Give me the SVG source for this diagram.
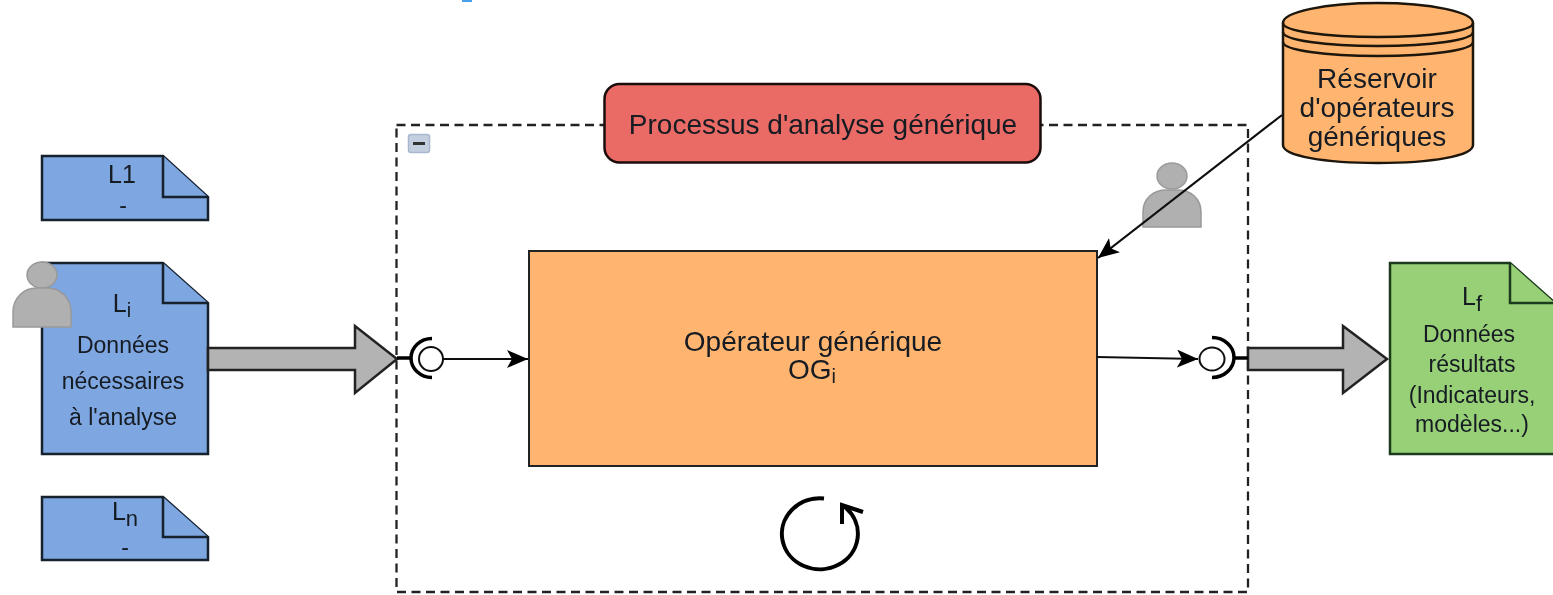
<svg xmlns="http://www.w3.org/2000/svg" width="1553" height="595" viewBox="0 0 1553 595">
<style>
text{font-family:"Liberation Sans",Arial,sans-serif;fill:#141a22;text-anchor:middle}
.doc{fill:#7ea6e0;stroke:#14202e;stroke-width:2.5;stroke-linejoin:miter}
.res{fill:#97d077;stroke:#1c3a1c;stroke-width:2.5}
.fat{fill:#b3b3b3;stroke:#222;stroke-width:2.5;stroke-linejoin:miter}
.person{fill:#b0b0b0;stroke:#999;stroke-width:1.5}
.t23{font-size:23px}
.t24{font-size:25px}
.t28{font-size:28px}
.line{fill:none;stroke:#111;stroke-width:2.2}
.sock{fill:none;stroke:#000;stroke-width:3.5}
.ball{fill:#fff;stroke:#111;stroke-width:2}
</style>
<defs>
<marker id="ah" markerUnits="userSpaceOnUse" markerWidth="24" markerHeight="20" refX="21" refY="9" orient="auto"><path d="M0 0L21 9L0 18L5 9Z" fill="#000"/></marker>
<filter id="soft" x="0" y="0" width="100%" height="100%"><feGaussianBlur stdDeviation="0.55"/></filter>
</defs>
<g filter="url(#soft)">
<rect x="0" y="0" width="1553" height="595" fill="#fff"/>
<rect x="462" y="0" width="10" height="2" fill="#4a9fe8"/>
<g id="process-frame">
<rect x="396.5" y="125" width="851.5" height="467" fill="none" stroke="#222" stroke-width="2.300" stroke-dasharray="9 5.5"/>
<rect x="408.500" y="134.500" width="21" height="18" rx="2.500" fill="#c3cfdf" stroke="#a8b8cd" stroke-width="1.500"/>
<rect x="413" y="142" width="12" height="3" fill="#333"/>
</g>
<g id="title"><rect x="604.500" y="84" width="436" height="78.500" rx="15" fill="#ea6b66" stroke="#1a0a0a" stroke-width="2.500"/><text x="823" y="134" class="t28">Processus d'analyse générique</text></g>
<g id="operator"><rect x="529" y="251" width="568" height="215" fill="#ffb570" stroke="#222" stroke-width="2"/><text x="813" y="351" class="t28">Opérateur générique</text><text x="812" y="379" class="t28">OG<tspan font-size="20" dy="4">i</tspan></text></g>
<g id="reservoir">
<path d="M1283 23V145C1283 156 1325 163 1378 163S1473 156 1473 145V23C1473 12 1431 3 1378 3S1283 12 1283 23Z" fill="#ffb570" stroke="#1c1408" stroke-width="2.500"/>
<path d="M1283 23C1283 31 1325 37 1378 37S1473 31 1473 23M1283 32C1283 40 1325 46 1378 46S1473 40 1473 32M1283 42C1283 50 1325 56 1378 56S1473 50 1473 42" fill="none" stroke="#1c1408" stroke-width="2.500"/>
<text x="1377" y="88" class="t28">Réservoir</text><text x="1377" y="117" class="t28">d'opérateurs</text><text x="1377" y="146" class="t28">génériques</text>
</g>
<g id="doc-l1"><path class="doc" d="M42 156H163L208 197V220H42Z"/><path class="doc" d="M163 156V197H208" fill="none"/><text x="122" y="183" class="t24">L1</text><text x="123" y="213" class="t23">-</text></g>
<g id="doc-li"><path class="doc" d="M42 263H163L208 303V454H42Z"/><path class="doc" d="M163 263V303H208"/><text x="122" y="312" class="t24">L<tspan font-size="20" dy="5">i</tspan></text><text x="123" y="353" class="t23">Données</text><text x="123" y="389" class="t23">nécessaires</text><text x="123" y="425" class="t23">à l'analyse</text></g>
<g id="doc-ln"><path class="doc" d="M42 497H163L208 537V560H42Z"/><path class="doc" d="M163 497V537H208"/><text x="125" y="520" class="t24">L<tspan font-size="22" dy="6">n</tspan></text><text x="125" y="555" class="t23">-</text></g>
<g id="doc-lf"><path class="res" d="M1390 263H1510L1555 303V454H1390Z"/><path class="res" d="M1510 263V303H1555"/><text x="1472" y="305" class="t24">L<tspan font-size="22" dy="6">f</tspan></text><text x="1469" y="342" class="t23">Données</text><text x="1472" y="372" class="t23">résultats</text><text x="1472" y="403" class="t23">(Indicateurs,</text><text x="1472" y="432" class="t23">modèles...)</text></g>
<g id="user-left"><ellipse cx="42" cy="275" rx="15" ry="13" class="person"/><path class="person" d="M13 327V312C13 298 24 288 36 288H48C60 288 71 298 71 312V327Z"/></g>
<g id="user-right"><ellipse cx="1172" cy="176" rx="15" ry="13" class="person"/><path class="person" d="M1143 227V212C1143 198 1154 190 1166 190H1178C1190 190 1201 198 1201 212V227Z"/></g>
<g id="connectors">
<path class="fat" d="M208 348H355V326L397 359L355 393V370H208Z"/>
<path class="fat" d="M1248 348H1343V326L1387 359L1343 393V370H1248Z"/>
<path class="line" d="M1282 115L1098 258" marker-end="url(#ah)"/>
<path class="line" d="M443 359H528" marker-end="url(#ah)"/>
<path class="line" d="M1097 357L1198 359" marker-end="url(#ah)"/>
<path class="sock" d="M397 358H411M432 338.500A21 19.500 0 0 0 432 377.500"/>
<circle class="ball" cx="431" cy="359" r="12"/>
<path class="sock" d="M1248 358H1234M1212 337.500A22 20 0 0 1 1212 377.500"/>
<ellipse class="ball" cx="1212" cy="359" rx="12.500" ry="11.500"/>
<path d="M824 498.500A38 35.500 0 1 0 846 508L842 505M842 524V505L863 512" fill="none" stroke="#000" stroke-width="4"/>
</g>
</g>
</svg>
